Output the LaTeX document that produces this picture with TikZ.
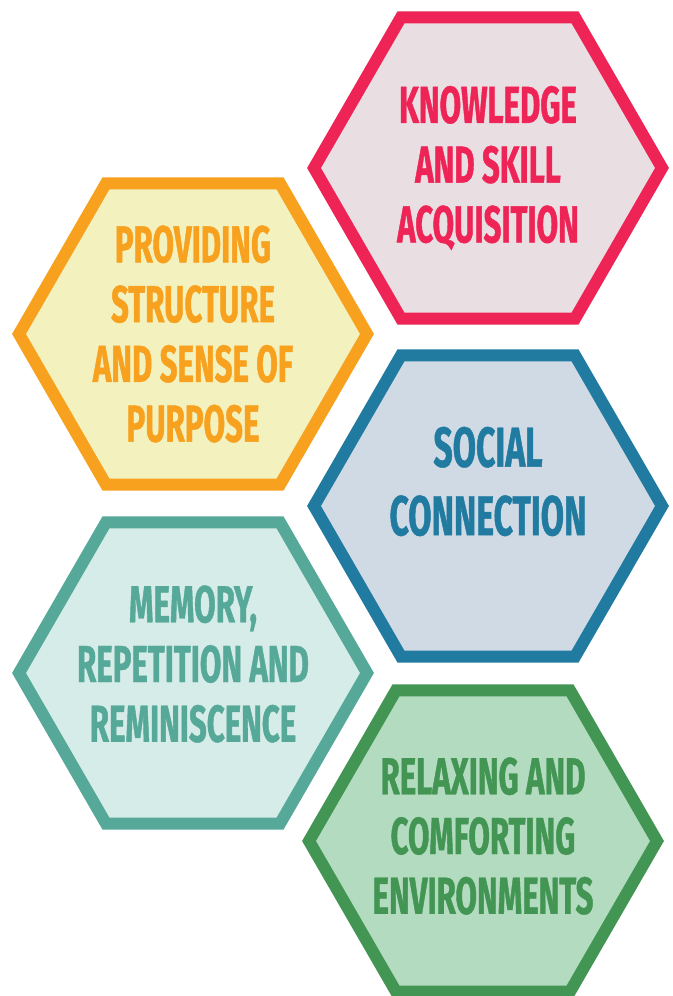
\documentclass[tikz,border=0pt]{standalone}
\usepackage{fontspec}
\usepackage{xcolor}
\definecolor{hexpink}{RGB}{238,36,87}
\definecolor{hexpinkbg}{RGB}{233,223,227}
\definecolor{hexorange}{RGB}{247,161,31}
\definecolor{hexorangebg}{RGB}{243,242,190}
\definecolor{hexblue}{RGB}{33,123,161}
\definecolor{hexbluebg}{RGB}{208,218,228}
\definecolor{hexteal}{RGB}{86,168,152}
\definecolor{hextealbg}{RGB}{213,236,232}
\definecolor{hexgreen}{RGB}{67,149,84}
\definecolor{hexgreenbg}{RGB}{178,219,191}
\newfontfamily\hexfont[FakeStretch=0.6, BoldFeatures={FakeBold=0.8}]{Fira Sans}
\usetikzlibrary{shapes.geometric,calc}

\tikzset{
  hexa/.style={regular polygon, regular polygon sides=6,
    minimum size=6.96cm, inner sep=0pt, line width=0.24cm, line join=miter},
  hexlabel/.style={align=center, font=\hexfont\bfseries\fontsize{29.6}{34}\selectfont}
}

\begin{document}
\begin{tikzpicture}
  \useasboundingbox (0,0) rectangle (13.46,19.92);

  % right column
  \node[hexa, draw=hexpink, fill=hexpinkbg] (knowledge) at (9.76,16.56) {};
  \node[hexa, draw=hexblue, fill=hexbluebg] (social) at (9.76,9.80) {};
  \node[hexa, draw=hexgreen, fill=hexgreenbg] (relaxing) at (9.66,3.10) {};

  % left column
  \node[hexa, draw=hexorange, fill=hexorangebg] (structure) at (3.86,13.24) {};
  \node[hexa, draw=hexteal, fill=hextealbg] (memory) at (3.86,6.46) {};

  \node[hexlabel, text=hexpink] (knowledgetxt) at (knowledge.center) {KNOWLEDGE\\AND SKILL\\ACQUISITION};
  \node[hexlabel, text=hexorange] (structuretxt) at (structure.center) {PROVIDING\\STRUCTURE\\AND SENSE OF\\PURPOSE};
  \node[hexlabel, text=hexblue, font=\hexfont\bfseries\fontsize{32}{39}\selectfont] (socialtxt) at ($(social.center)+(0,0.49)$) {SOCIAL\\CONNECTION};
  \node[hexlabel, text=hexteal] (memorytxt) at ($(memory.center)+(0,0.18)$) {MEMORY,\\REPETITION AND\\REMINISCENCE};
  \node[hexlabel, text=hexgreen] (relaxingtxt) at ($(relaxing.center)+(0,0.10)$) {RELAXING AND\\COMFORTING\\ENVIRONMENTS};
\end{tikzpicture}
\end{document}
